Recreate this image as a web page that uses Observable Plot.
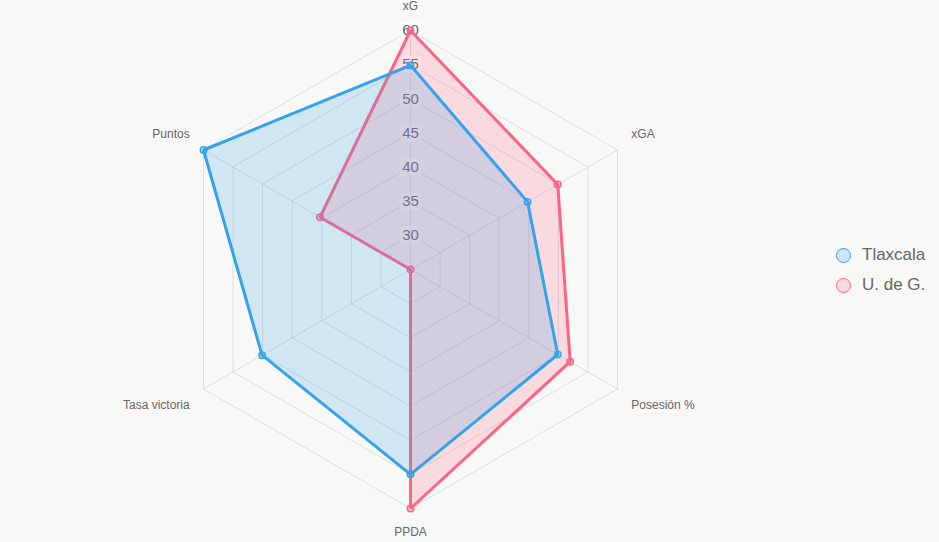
<!DOCTYPE html>
<html>
<head>
<meta charset="utf-8">
<script src="https://cdn.jsdelivr.net/npm/d3@7"></script>
<script src="https://cdn.jsdelivr.net/npm/@observablehq/plot@0.6"></script>
<style>
  html, body { margin: 0; padding: 0; background: #f8f8f6; }
  #wrap { position: relative; width: 939px; height: 542px; font-family: "Helvetica Neue", Helvetica, Arial, "Liberation Sans", sans-serif; }
  #legend { position: absolute; left: 835px; top: 240px; color: #666; font-size: 17px; }
  .item { display: flex; align-items: center; height: 30px; }
  .sw { width: 15px; height: 15px; border-radius: 50%; border: 1.5px solid; box-sizing: border-box; margin-right: 11px; margin-left: 1px; }
</style>
</head>
<body>
<div id="wrap"><div id="chart"></div><div id="legend"></div></div>
<script>
const axes = ["xG", "xGA", "Posesión %", "PPDA", "Tasa victoria", "Puntos"];
const series = ["Tlaxcala", "U. de G."];
const tlaxcala = [54.9, 44.8, 49.9, 55.0, 50.1, 60];
const udeg = [60, 49.9, 52.0, 60, 25, 40.3];
const ticks = [30, 35, 40, 45, 50, 55, 60];
const colors = ["rgb(54,162,235)", "rgb(255,99,132)"];
const fills = ["rgba(54,162,235,0.2)", "rgba(255,99,132,0.2)"];

const W = 939, H = 542, CX = 410, CY = 269, R = 239;
const rs = d3.scaleLinear([25, 60], [0, 1]);
const ang = i => i * 2 * Math.PI / axes.length;
const px = (v, i) => rs(v) * Math.sin(ang(i));
const py = (v, i) => rs(v) * Math.cos(ang(i));

const grid = ticks.flatMap(t => axes.map((a, i) => ({t, x: px(t, i), y: py(t, i)})));
const spokes = axes.map((a, i) => ({x1: 0, y1: 0, x2: px(60, i), y2: py(60, i)}));
const tickData = ticks.map(t => ({t, x: 0, y: rs(t)}));
const lblR = 255 / R;
const labels = axes.map((a, i) => {
  const s = Math.sin(ang(i)), c = Math.cos(ang(i));
  return {a, x: lblR * s, y: lblR * c,
    anchor: Math.abs(s) < 1e-6 ? "middle" : (s > 0 ? "start" : "end"),
    up: c > 0};
});
const mkData = (vals, name) => vals.map((v, i) => ({name, x: px(v, i), y: py(v, i)}));
const dsBlue = mkData(tlaxcala, series[0]);
const dsPink = mkData(udeg, series[1]);

const box = {draw(ctx) { ctx.rect(-10.5, -8.5, 21, 17); }};

const datasetMarks = (d, k) => [
  Plot.line(d, {x: "x", y: "y", curve: "linear-closed", fill: fills[k], stroke: colors[k], strokeWidth: 3, strokeLinejoin: "miter"}),
  Plot.dot(d, {x: "x", y: "y", r: 3.2, fill: fills[k], stroke: colors[k], strokeWidth: 1.5})
];

const labelMarks = [];
for (const anchor of ["start", "middle", "end"]) {
  for (const up of [true, false]) {
    labelMarks.push(Plot.text(labels, {
      filter: d => d.anchor === anchor && d.up === up,
      x: "x", y: "y", text: "a", textAnchor: anchor, dy: up ? -8 : 8,
      fontSize: 12, fill: "#666"
    }));
  }
}

const plot = Plot.plot({
  width: W, height: H,
  marginTop: 0, marginBottom: 0, marginLeft: 0, marginRight: 0,
  style: {background: "transparent", fontFamily: "'Helvetica Neue', Helvetica, Arial, 'Liberation Sans', sans-serif"},
  x: {domain: [-CX / R, (W - CX) / R], axis: null},
  y: {domain: [-(H - CY) / R, CY / R], axis: null},
  marks: [
    Plot.line(grid, {x: "x", y: "y", z: "t", curve: "linear-closed", stroke: "#000", strokeOpacity: 0.1, strokeWidth: 1}),
    Plot.link(spokes, {x1: "x1", y1: "y1", x2: "x2", y2: "y2", stroke: "#000", strokeOpacity: 0.1, strokeWidth: 1}),
    Plot.dot(tickData, {x: "x", y: "y", symbol: box, fill: "rgba(255,255,255,0.75)", stroke: "none"}),
    Plot.text(tickData, {x: "x", y: "y", text: d => String(d.t), fontSize: 15, fill: "#666"}),
    ...labelMarks,
    ...datasetMarks(dsPink, 1),
    ...datasetMarks(dsBlue, 0)
  ]
});
document.getElementById("chart").appendChild(plot);

const lg = document.getElementById("legend");
series.forEach((s, k) => {
  const it = document.createElement("div");
  it.className = "item";
  const sw = document.createElement("span");
  sw.className = "sw";
  sw.style.borderColor = colors[k];
  sw.style.background = fills[k];
  it.appendChild(sw);
  const t = document.createElement("span");
  t.textContent = s;
  it.appendChild(t);
  lg.appendChild(it);
});
</script>
</body>
</html>
